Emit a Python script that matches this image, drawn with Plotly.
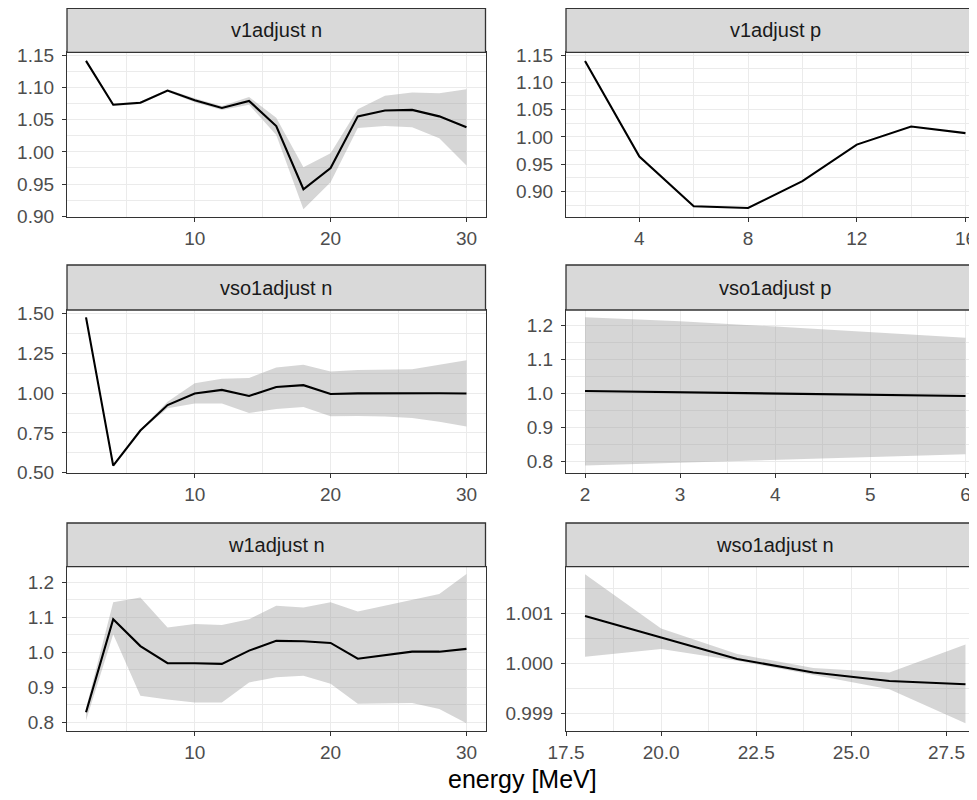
import plotly.graph_objects as go

# ---------------- data ----------------
energy_n = [2, 4, 6, 8, 10, 12, 14, 16, 18, 20, 22, 24, 26, 28, 30]

v1_n = [1.141, 1.073, 1.076, 1.095, 1.080, 1.068, 1.079, 1.040, 0.942, 0.975, 1.055, 1.064, 1.065, 1.055, 1.038]
v1_n_lo = [1.139, 1.071, 1.074, 1.093, 1.077, 1.065, 1.073, 1.026, 0.911, 0.953, 1.037, 1.040, 1.038, 1.021, 0.979]
v1_n_hi = [1.143, 1.075, 1.078, 1.097, 1.083, 1.071, 1.085, 1.053, 0.976, 0.998, 1.066, 1.087, 1.092, 1.091, 1.097]

energy_p = [2, 4, 6, 8, 10, 12, 14, 16]
v1_p = [1.139, 0.964, 0.873, 0.870, 0.919, 0.986, 1.019, 1.007]

vso1_n = [1.475, 0.545, 0.765, 0.925, 0.998, 1.020, 0.982, 1.038, 1.050, 0.994, 0.998, 0.999, 0.999, 0.999, 0.997]
vso1_n_lo = [1.474, 0.544, 0.760, 0.905, 0.935, 0.935, 0.875, 0.900, 0.912, 0.855, 0.857, 0.853, 0.843, 0.820, 0.790]
vso1_n_hi = [1.476, 0.546, 0.770, 0.945, 1.062, 1.090, 1.095, 1.160, 1.178, 1.135, 1.145, 1.148, 1.150, 1.178, 1.206]

energy_p2 = [2, 3, 4, 5, 6]
vso1_p = [1.007, 1.003, 1.000, 0.996, 0.992]
vso1_p_lo = [0.787, 0.795, 0.803, 0.812, 0.820]
vso1_p_hi = [1.2245, 1.213, 1.197, 1.181, 1.164]

w1_n = [0.829, 1.095, 1.018, 0.969, 0.969, 0.967, 1.005, 1.033, 1.032, 1.027, 0.982, 0.991, 1.002, 1.002, 1.010]
w1_n_lo = [0.805, 1.052, 0.876, 0.865, 0.857, 0.857, 0.914, 0.929, 0.933, 0.910, 0.853, 0.853, 0.855, 0.838, 0.797]
w1_n_hi = [0.840, 1.143, 1.157, 1.071, 1.081, 1.078, 1.095, 1.133, 1.128, 1.143, 1.117, 1.133, 1.150, 1.167, 1.224]

energy_w = [18, 20, 22, 24, 26, 28]
wso1_n = [1.000949, 1.000516, 1.000089, 0.999817, 0.999648, 0.999581]
wso1_n_lo = [1.000136, 1.000290, 1.000055, 0.999770, 0.999480, 0.998800]
wso1_n_hi = [1.001790, 1.000700, 1.000190, 0.999906, 0.999817, 1.000380]

strip_labels = ["v1adjust n", "v1adjust p", "vso1adjust n", "vso1adjust p", "w1adjust n", "wso1adjust n"]
x_title = "energy [MeV]"

# tick labels
xt_n = ["10", "20", "30"]
xt_p = ["4", "8", "12", "16"]
xt_p2 = ["2", "3", "4", "5", "6"]
xt_w = ["17.5", "20.0", "22.5", "25.0", "27.5"]
yt_v1 = ["0.90", "0.95", "1.00", "1.05", "1.10", "1.15"]
yt_vso1n = ["0.50", "0.75", "1.00", "1.25", "1.50"]
yt_1f = ["0.8", "0.9", "1.0", "1.1", "1.2"]
yt_wso = ["0.999", "1.000", "1.001"]

# ---------------- layout geometry ----------------
# The page body has an 8px margin, so the figure is placed at (8, 8)
# and sized to end at the window edge; page pixels are mapped accordingly.
OFF = 8
PAGE_W, PAGE_H = 977, 800
W, H = PAGE_W - OFF, PAGE_H - OFF
FONT = "Liberation Sans"
GRID = "#EBEBEB"
BORDER = "#333333"
BAND = "rgba(153,153,153,0.4)"


def fx(p):
    return (p - OFF) / W


def fy(p):
    return 1 - (p - OFF) / H


cols = [(67, 485.5), (566, 977)]
true_right = 984.5
rows = [(8.3, 52.3, 216.7), (265, 310, 473), (523, 566.7, 730.7)]
vis_frac = (977 - 566) / (true_right - 566)


def fl(vals):
    return [float(v) for v in vals]


panels = [
    dict(x=energy_n, y=v1_n, lo=v1_n_lo, hi=v1_n_hi, col=0, row=0,
         xr=[0.6, 31.4], yr=[0.8995, 1.1543],
         xtv=[10, 20, 30], xtt=xt_n, xmin=[5, 15, 25],
         ytv=[0.90, 0.95, 1.00, 1.05, 1.10, 1.15], ytt=yt_v1,
         ymin=[0.925, 0.975, 1.025, 1.075, 1.125]),
    dict(x=energy_p, y=v1_p, lo=None, hi=None, col=1, row=0,
         xr=[1.3, 16.7], yr=[0.854, 1.155],
         xtv=[4, 8, 12, 16], xtt=xt_p, xmin=[2, 6, 10, 14],
         ytv=[0.90, 0.95, 1.00, 1.05, 1.10, 1.15], ytt=yt_v1,
         ymin=[0.875, 0.925, 0.975, 1.025, 1.075, 1.125]),
    dict(x=energy_n, y=vso1_n, lo=vso1_n_lo, hi=vso1_n_hi, col=0, row=1,
         xr=[0.6, 31.4], yr=[0.4985, 1.5215],
         xtv=[10, 20, 30], xtt=xt_n, xmin=[5, 15, 25],
         ytv=[0.50, 0.75, 1.00, 1.25, 1.50], ytt=yt_vso1n,
         ymin=[0.625, 0.875, 1.125, 1.375]),
    dict(x=energy_p2, y=vso1_p, lo=vso1_p_lo, hi=vso1_p_hi, col=1, row=1,
         xr=[1.8, 6.2], yr=[0.765, 1.246],
         xtv=[2, 3, 4, 5, 6], xtt=xt_p2, xmin=[2.5, 3.5, 4.5, 5.5],
         ytv=[0.8, 0.9, 1.0, 1.1, 1.2], ytt=yt_1f,
         ymin=[0.85, 0.95, 1.05, 1.15]),
    dict(x=energy_n, y=w1_n, lo=w1_n_lo, hi=w1_n_hi, col=0, row=2,
         xr=[0.6, 31.4], yr=[0.776, 1.245],
         xtv=[10, 20, 30], xtt=xt_n, xmin=[5, 15, 25],
         ytv=[0.8, 0.9, 1.0, 1.1, 1.2], ytt=yt_1f,
         ymin=[0.85, 0.95, 1.05, 1.15]),
    dict(x=energy_w, y=wso1_n, lo=wso1_n_lo, hi=wso1_n_hi, col=1, row=2,
         xr=[17.5, 28.5], yr=[0.99865, 1.00194],
         xtv=[17.5, 20.0, 22.5, 25.0, 27.5], xtt=xt_w, xmin=[18.75, 21.25, 23.75, 26.25],
         ytv=[0.999, 1.000, 1.001], ytt=yt_wso,
         ymin=[0.9995, 1.0005, 1.0015]),
]

fig = go.Figure()
shapes = []
annotations = []
layout_axes = {}

for i, p in enumerate(panels):
    k = i + 1
    xa = "x" if k == 1 else f"x{k}"
    ya = "y" if k == 1 else f"y{k}"
    c0, c1 = cols[p["col"]]
    s_top, p_top, p_bot = rows[p["row"]]
    right = p["col"] == 1

    if p["lo"] is not None:
        fig.add_trace(go.Scatter(x=p["x"], y=p["lo"], xaxis=xa, yaxis=ya, mode="lines",
                                 line=dict(width=0, color=BAND), hoverinfo="skip", showlegend=False))
        fig.add_trace(go.Scatter(x=p["x"], y=p["hi"], xaxis=xa, yaxis=ya, mode="lines",
                                 line=dict(width=0, color=BAND), fill="tonexty", fillcolor=BAND,
                                 hoverinfo="skip", showlegend=False))
    fig.add_trace(go.Scatter(x=p["x"], y=p["y"], xaxis=xa, yaxis=ya, mode="lines",
                             line=dict(width=2.1, color="black"), hoverinfo="skip", showlegend=False))

    xr = list(p["xr"])
    if right:
        xr = [xr[0], xr[0] + vis_frac * (xr[1] - xr[0])]

    common = dict(showgrid=True, gridcolor=GRID, gridwidth=1.2, zeroline=False,
                  showline=True, linecolor=BORDER, linewidth=1.3,
                  ticks="outside", ticklen=4, tickwidth=1.2, tickcolor=BORDER,
                  tickfont=dict(family=FONT, size=19, color="#4D4D4D"),
                  fixedrange=True, automargin=False)
    layout_axes["xaxis" if k == 1 else f"xaxis{k}"] = dict(
        common, domain=[fx(c0), min(1.0, fx(c1))], anchor=ya, range=xr, mirror=True,
        tickmode="array", tickvals=fl(p["xtv"]), ticktext=p["xtt"],
        minor=dict(tickvals=fl(p["xmin"]), showgrid=True, gridcolor=GRID, gridwidth=0.6, ticks=""))
    layout_axes["yaxis" if k == 1 else f"yaxis{k}"] = dict(
        common, domain=[fy(p_bot), fy(p_top)], anchor=xa, range=p["yr"], mirror=not right,
        tickmode="array", tickvals=fl(p["ytv"]), ticktext=p["ytt"], ticklabelstandoff=4,
        minor=dict(tickvals=fl(p["ymin"]), showgrid=True, gridcolor=GRID, gridwidth=0.6, ticks=""))

    # strip
    sx1 = fx(c1) if not right else fx(true_right + 5)
    shapes.append(dict(type="rect", xref="paper", yref="paper",
                       x0=fx(c0), x1=sx1, y0=fy(p_top), y1=fy(s_top),
                       fillcolor="#D9D9D9", line=dict(color=BORDER, width=1.3), layer="above"))
    cx = (c0 + (c1 if not right else true_right)) / 2
    annotations.append(dict(text=strip_labels[i], xref="paper", yref="paper",
                            x=fx(cx), y=fy((s_top + p_top) / 2), showarrow=False,
                            xanchor="center", yanchor="middle",
                            font=dict(family=FONT, size=20, color="#1A1A1A")))

annotations.append(dict(text=x_title, xref="paper", yref="paper", x=fx(522), y=fy(779),
                        showarrow=False, xanchor="center", yanchor="middle",
                        font=dict(family=FONT, size=25, color="black")))

fig.update_layout(width=W, height=H, margin=dict(l=0, r=0, t=0, b=0, autoexpand=False),
                  paper_bgcolor="white", plot_bgcolor="white",
                  shapes=shapes, annotations=annotations, **layout_axes)

fig.write_html("out.html")
